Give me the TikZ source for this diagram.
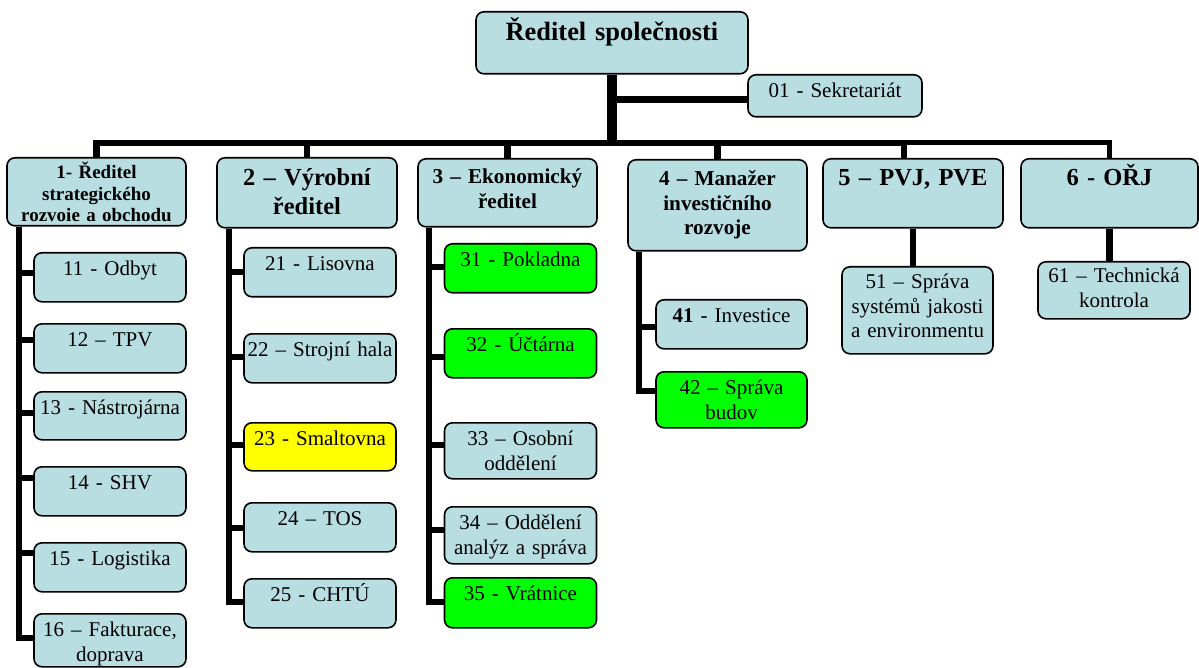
\documentclass[tikz,border=0pt]{standalone}
\usepackage{fontspec}
\setmainfont{Liberation Serif}
\usetikzlibrary{backgrounds}
\definecolor{BoxBlue}{RGB}{185,222,226}
\definecolor{UnitGreen}{RGB}{0,255,0}
\definecolor{UnitYellow}{RGB}{255,255,0}

\begin{document}
\begin{tikzpicture}[x=1pt,y=-1pt,
    box/.style={draw=black,line width=1.6pt,fill=BoxBlue,rounded corners=8pt,
                inner sep=0pt,anchor=north,align=center},
    head/.style={box,font=\bfseries\fontsize{24.5}{29}\selectfont,
                 minimum width=179pt,text width=172pt,text height=27pt},
    dept/.style={box,font=\fontsize{21}{24.5}\selectfont,
                 minimum width=152pt,text width=148pt,text height=23pt},
    link/.style={line width=6.5pt},
    trunk/.style={line width=10pt}]

  \useasboundingbox (0,0) rectangle (1199,668);

  % top level
  \node[box,font=\bfseries\fontsize{26.4}{31}\selectfont,minimum width=272pt,
        text width=266pt,text height=29pt,text depth=33pt] (dir) at (612,11)
        {Ředitel společnosti};
  \node[dept,minimum width=174pt,text width=170pt,text depth=19pt] (sek) at (835,74)
        {01 - Sekretariát};

  % directors
  \node[head,font=\bfseries\fontsize{19}{21.5}\selectfont,
        text height=21pt,text depth=47pt] (d1) at (96.5,157)
        {1- Ředitel\\strategického\\rozvoie a obchodu};
  \node[head,text height=28pt,text depth=42pt,minimum width=180pt] (d2) at (307,157)
        {2 – Výrobní\\ředitel};
  \node[head,font=\bfseries\fontsize{21.2}{25}\selectfont,
        text height=25pt,text depth=43pt] (d3) at (507.5,158)
        {3 – Ekonomický\\ředitel};
  \node[head,font=\bfseries\fontsize{21.2}{24.5}\selectfont,
        text height=26pt,text depth=65pt] (d4) at (717.5,159)
        {4 – Manažer\\investičního\\rozvoje};
  \node[head,text depth=42pt,minimum width=180pt] (d5) at (913,158) {5 – PVJ, PVE};
  \node[head,text depth=42pt,minimum width=177pt] (d6) at (1109.5,158) {6 - OŘJ};

  % units
  \node[dept,text depth=26pt] (c11) at (110,252) {11 - Odbyt};
  \node[dept,text depth=26pt] (c12) at (110,323) {12 – TPV};
  \node[dept,text depth=25pt] (c13) at (110,391) {13 - Nástrojárna};
  \node[dept,text depth=26pt] (c14) at (110,466) {14 - SHV};
  \node[dept,text depth=26pt] (c15) at (110,542) {15 - Logistika};
  \node[dept,text depth=30pt] (c16) at (110,613) {16 – Fakturace,\\doprava};

  \node[dept,text depth=26pt] (c21) at (320,247) {21 - Lisovna};
  \node[dept,text depth=26pt] (c22) at (320,333) {22 – Strojní hala};
  \node[dept,text depth=25pt,fill=UnitYellow] (c23) at (320,422) {23 - Smaltovna};
  \node[dept,text depth=26pt] (c24) at (320,502) {24 – TOS};
  \node[dept,text depth=26pt] (c25) at (320,578) {25 - CHTÚ};

  \node[dept,text depth=26pt,fill=UnitGreen] (c31) at (520.5,243) {31 - Pokladna};
  \node[dept,text depth=26pt,fill=UnitGreen] (c32) at (520.5,328) {32 - Účtárna};
  \node[dept,text depth=33pt] (c33) at (520.5,422) {33 – Osobní\\oddělení};
  \node[dept,text depth=34pt] (c34) at (520.5,506) {34 – Oddělení\\analýz a správa};
  \node[dept,text depth=27pt,fill=UnitGreen] (c35) at (520.5,577) {35 - Vrátnice};

  \node[dept,text depth=26pt,minimum width=151pt] (c41) at (731.5,299)
        {\textbf{41} - Investice};
  \node[dept,text depth=33pt,minimum width=151pt,fill=UnitGreen] (c42) at (731.5,371)
        {42 – Správa\\budov};

  \node[dept,text height=22pt,text depth=65pt,minimum width=151pt] (c51) at (917.5,266)
        {51 – Správa\\systémů jakosti\\a environmentu};
  \node[dept,text height=21pt,text depth=36pt] (c61) at (1114,261)
        {61 – Technická\\kontrola};

  % connectors
  \begin{scope}[on background layer]
    \coordinate (bus) at (612,143);
    \coordinate (sekin) at ([yshift=-3.5pt]sek.west);
    \draw[trunk] (dir.south) -- (bus);
    \draw[link] (dir.south |- sekin) -- (sekin);
    \draw[link] (d1.north) |- (bus) -| ([xshift=-9pt]d5.north);
    \draw[link,line width=5pt] ([xshift=-9pt]d5.north |- bus) -| (d6.north);
    \foreach \d in {d2,d3,d4}
      \draw[link] (\d.north) -- (\d.north |- bus);

    \coordinate (s1) at ([xshift=13pt]d1.south west);
    \coordinate (s2) at ([xshift=13pt]d2.south west);
    \coordinate (s3) at ([xshift=12pt]d3.south west);
    \coordinate (s4) at ([xshift=12pt]d4.south west);
    \foreach \n/\off in {11/21,12/17,13/22,14/12,15/11,16/25}
      \draw[link] (s1) |- ([yshift=-\off pt]c\n.north west);
    \foreach \n/\off in {21/25,22/24,23/23,24/26,25/24}
      \draw[link] (s2) |- ([yshift=-\off pt]c\n.north west);
    \foreach \n/\off in {31/24,32/29,33/23,34/24,35/25}
      \draw[link] (s3) |- ([yshift=-\off pt]c\n.north west);
    \foreach \n/\off in {41/28,42/20}
      \draw[link] (s4) |- ([yshift=-\off pt]c\n.north west);

    \draw[link] (d5.south) -- (d5.south |- c51.north);
    \draw[link] (d6.south) -- (d6.south |- c61.north);
  \end{scope}
\end{tikzpicture}
\end{document}
